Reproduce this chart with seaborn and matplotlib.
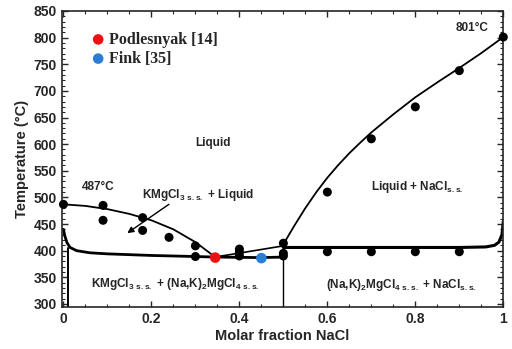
import matplotlib
matplotlib.use('Agg')
import matplotlib.pyplot as plt
import seaborn as sns
from matplotlib.ticker import MultipleLocator

# experimental points (black)
exp_x = [0, 0.09, 0.09, 0.18, 0.18, 0.24, 0.30, 0.30, 0.40, 0.40, 0.40,
         0.50, 0.50, 0.50, 0.60, 0.60, 0.70, 0.70, 0.80, 0.80, 0.90, 0.90, 1.0]
exp_t = [487, 485, 457, 462, 438, 425, 409, 389, 403, 397, 390,
         414, 395, 390, 510, 398, 610, 398, 670, 398, 738, 398, 801]

# literature eutectics
podl_x, podl_t = [0.345], [387]
fink_x, fink_t = [0.45], [386]

# calculated phase boundaries
liq_left_x = [0, 0.05, 0.10, 0.15, 0.20, 0.25, 0.30, 0.345]
liq_left_t = [487, 484, 478, 469, 457, 440, 416, 388]
liq_right_x = [0.5, 0.525, 0.55, 0.575, 0.6, 0.625, 0.65, 0.675, 0.7,
               0.75, 0.8, 0.85, 0.9, 0.95, 1.0]
liq_right_t = [412, 447, 480, 510, 537, 561, 583, 603, 622,
               656, 688, 716, 743, 771, 801]
peri_x = [0.345, 0.5]
peri_t = [388, 409]
nacl_x = [0.5, 0.9, 0.96, 0.98, 0.99, 0.997, 1.0]
nacl_t = [406, 406, 407, 410, 416, 430, 455]
eut_x = [0, 0.003, 0.008, 0.015, 0.03, 0.06, 0.1, 0.2, 0.3, 0.345, 0.45, 0.5]
eut_t = [440, 428, 415, 406, 400, 396, 394, 391, 389, 388, 387, 388]
solvus_x = [0.011, 0.011]
solvus_t = [405, 290]
mid_x = [0.5, 0.5]
mid_t = [410, 290]

sns.set_style('ticks')
plt.rcParams['font.family'] = ['Liberation Sans', 'DejaVu Sans']
plt.rcParams['font.weight'] = 'bold'
plt.rcParams['mathtext.fontset'] = 'custom'
plt.rcParams['mathtext.rm'] = 'Liberation Sans:bold'
plt.rcParams['mathtext.bf'] = 'Liberation Sans:bold'
plt.rcParams['mathtext.default'] = 'rm'

fig = plt.figure(figsize=(5.12, 3.49), dpi=100)
ax = fig.add_axes([0.1205, 0.12, 0.8625, 0.8485])

kw = dict(color='black', sort=False, estimator=None, legend=False, ax=ax)
sns.lineplot(x=liq_left_x, y=liq_left_t, lw=1.3, **kw)
sns.lineplot(x=liq_right_x, y=liq_right_t, lw=1.3, **kw)
sns.lineplot(x=peri_x, y=peri_t, lw=1.2, **kw)
sns.lineplot(x=nacl_x, y=nacl_t, lw=2.2, **kw)
sns.lineplot(x=eut_x, y=eut_t, lw=2.0, **kw)
sns.lineplot(x=solvus_x, y=solvus_t, lw=1.4, **kw)
sns.lineplot(x=mid_x, y=mid_t, lw=1.0, **kw)

sns.scatterplot(x=exp_x, y=exp_t, color='black', s=42, edgecolor='none',
                ax=ax, zorder=5, clip_on=False)
sns.scatterplot(x=podl_x, y=podl_t, color='#ee1111', s=58, edgecolor='none',
                ax=ax, zorder=6, label='Podlesnyak [14]')
sns.scatterplot(x=fink_x, y=fink_t, color='#2a7fd4', s=58, edgecolor='none',
                ax=ax, zorder=6, label='Fink [35]')

leg = ax.legend(loc='upper left', bbox_to_anchor=(0.032, 0.952), frameon=False,
                handletextpad=-0.3, labelspacing=0.2, borderaxespad=0,
                prop={'family': 'Liberation Serif', 'weight': 'bold', 'size': 11.5})

ax.annotate('', xy=(0.14, 430), xytext=(0.245, 490),
            arrowprops=dict(arrowstyle='-|>', color='black', lw=1.0,
                            mutation_scale=9))

fs = 8.5
ax.text(0.928, 818, '801°C', ha='center', va='center', fontsize=fs)
ax.text(0.08, 520, '487°C', ha='center', va='center', fontsize=fs)
ax.text(0.34, 603, 'Liquid', ha='center', va='center', fontsize=fs)
ax.text(0.305, 504, r'KMgCl$_{3\ s.s.}$ + Liquid', ha='center', va='center', fontsize=fs)
ax.text(0.805, 519, r'Liquid + NaCl$_{s.s.}$', ha='center', va='center', fontsize=fs)
ax.text(0.253, 337, r'KMgCl$_{3\ s.s.}$ + (Na,K)$_2$MgCl$_{4\ s.s.}$',
        ha='center', va='center', fontsize=fs)
ax.text(0.767, 335, r'(Na,K)$_2$MgCl$_{4\ s.s.}$ + NaCl$_{s.s.}$',
        ha='center', va='center', fontsize=fs)

ax.set_xlim(-0.004, 1.0)
ax.set_ylim(294, 850)
ax.set_xticks([0, 0.2, 0.4, 0.6, 0.8, 1.0])
ax.set_xticklabels(['0', '0.2', '0.4', '0.6', '0.8', '1'])
ax.set_yticks(range(300, 851, 50))
ax.xaxis.set_minor_locator(MultipleLocator(0.05))
ax.yaxis.set_minor_locator(MultipleLocator(10))
ax.tick_params(which='both', direction='in', top=True, right=True, labelsize=10)
ax.tick_params(which='major', length=4, width=1.0)
ax.tick_params(which='minor', length=2, width=0.8)
for sp in ax.spines.values():
    sp.set_linewidth(1.2)

ax.set_xlabel('Molar fraction NaCl', fontsize=10.5, fontweight='bold', labelpad=2)
ax.set_ylabel('Temperature (°C)', fontsize=10.5, fontweight='bold', labelpad=3)

fig.savefig('out.png', dpi=100)
